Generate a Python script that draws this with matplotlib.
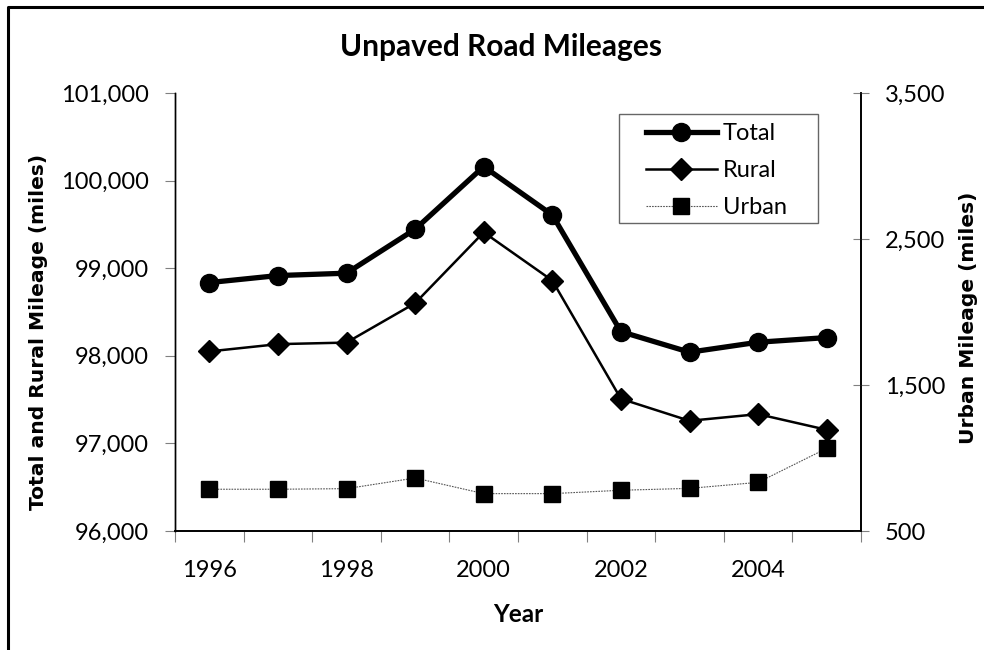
import matplotlib
matplotlib.use('Agg')
import matplotlib.pyplot as plt
from matplotlib.lines import Line2D
from matplotlib.patches import Rectangle
from matplotlib.ticker import FuncFormatter, FixedLocator

# Unpaved road mileages by year
years = [1996, 1997, 1998, 1999, 2000, 2001, 2002, 2003, 2004, 2005]
total = [98836, 98916, 98943, 99445, 100160, 99608, 98276, 98041, 98155, 98208]
rural = [98050, 98133, 98151, 98601, 99410, 98859, 97509, 97258, 97334, 97155]
urban = [786, 786, 790, 863, 756, 756, 779, 792, 833, 1066]

label_years = [1996, 1998, 2000, 2002, 2004]
left_ticks = [96000, 97000, 98000, 99000, 100000, 101000]
right_ticks = [500, 1500, 2500, 3500]

plt.rcParams['font.family'] = ['Lato', 'DejaVu Sans']

fig = plt.figure(figsize=(9.84, 6.5), dpi=100)
ax = fig.add_axes([175/984, 1-531/650, (861-175)/984, (531-93)/650])
ax2 = ax.twinx()

l1, = ax.plot(years, total, color='black', lw=3.8, marker='o', ms=13, label='Total')
l2, = ax.plot(years, rural, color='black', lw=1.8, marker='D', ms=11, label='Rural')
l3, = ax2.plot(years, urban, color='#555555', lw=0.8, ls=(0, (1.5, 1)), marker='s', ms=11,
               mfc='black', mec='black', label='Urban')

ax.set_xlim(1995.5, 2005.5)
ax.set_ylim(96000, 101000)
ax2.set_ylim(500, 3500)

# category boundary ticks, labels on every other year
bounds = [y - 0.5 for y in years] + [years[-1] + 0.5]
ax.xaxis.set_major_locator(FixedLocator(bounds))
ax.xaxis.set_minor_locator(FixedLocator(label_years))
ax.xaxis.set_major_formatter(FuncFormatter(lambda v, p: ''))
ax.xaxis.set_minor_formatter(FuncFormatter(lambda v, p: str(int(v))))
ax.tick_params(axis='x', which='major', length=8, color='#808080', direction='out')
ax.tick_params(axis='x', which='minor', length=0, pad=21, labelsize=17)

ax.set_yticks(left_ticks)
ax.yaxis.set_major_formatter(FuncFormatter(lambda v, p: '{:,.0f}'.format(v)))
ax.tick_params(axis='y', length=7, color='#808080', direction='out', pad=12, labelsize=17)

ax2.set_yticks(right_ticks)
ax2.yaxis.set_major_formatter(FuncFormatter(lambda v, p: '{:,.0f}'.format(v)))
ax2.tick_params(axis='y', length=12, color='#808080', direction='inout', pad=11, labelsize=17)

for a in (ax, ax2):
    a.spines['top'].set_visible(False)
    a.spines['left'].set_color('black')
    a.spines['bottom'].set_color('black')
    a.spines['right'].set_color('black')
    a.spines['left'].set_linewidth(1.0)
    a.spines['bottom'].set_linewidth(1.2)
    a.spines['right'].set_linewidth(1.2)

fig.text(501/984, 1-47/650, 'Unpaved Road Mileages', ha='center', va='center',
         fontsize=21.5, fontweight='bold')
fig.text(518/984, 1-615/650, 'Year', ha='center', va='center', fontsize=17.5, fontweight='bold')
fig.text(39/984, 1-332/650, 'Total and Rural Mileage (miles)', rotation=90, ha='center',
         va='center', fontsize=14.6, fontweight='bold', family='DejaVu Sans')
fig.text(969/984, 1-318/650, 'Urban Mileage (miles)', rotation=90, ha='center',
         va='center', fontsize=14.6, fontweight='bold', family='DejaVu Sans')

leg = ax2.legend(handles=[l1, l2, l3], loc='upper left',
                 bbox_to_anchor=(646/984, 1-123/650), bbox_transform=fig.transFigure,
                 borderaxespad=0, fontsize=17, frameon=False,
                 handlelength=3.0, handletextpad=0.25, labelspacing=0.68,
                 borderpad=0.0)

# legend frame, as drawn by the original chart
fig.add_artist(Rectangle((619/984, 1-223/650), (818-619)/984, (223-114)/650,
                         transform=fig.transFigure, fill=False,
                         edgecolor='#666666', lw=1.0))

# outer chart border (left and top edges visible)
fig.add_artist(Line2D([7.5/984, 7.5/984, 1.0], [0.0, 1-6.5/650, 1-6.5/650],
                      transform=fig.transFigure, color='black', lw=2.2))

fig.savefig('out.png', dpi=100)
